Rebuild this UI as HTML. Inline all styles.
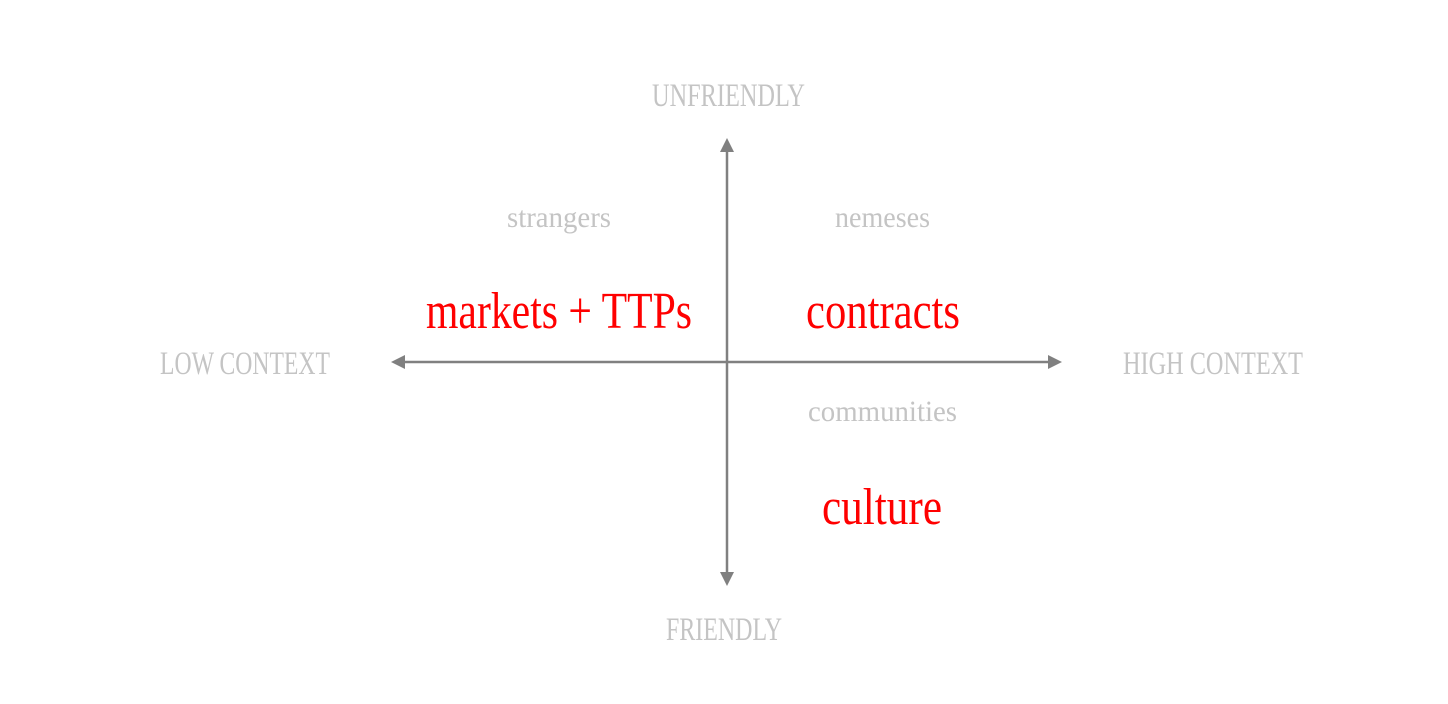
<!DOCTYPE html>
<html>
<head>
<meta charset="utf-8">
<style>
html,body{margin:0;padding:0;background:#fff;}
svg{display:block;}
text{font-family:"Liberation Serif",serif;}
.g{fill:#c4c4c4;}
.r{fill:#ff0000;}
</style>
</head>
<body>
<svg width="1448" height="704" viewBox="0 0 1448 704" xmlns="http://www.w3.org/2000/svg">
<rect width="1448" height="704" fill="#fff"/>
<g stroke="#808080" stroke-width="2.5">
<line x1="727" y1="150" x2="727" y2="575"/>
<line x1="402" y1="362" x2="1050" y2="362"/>
</g>
<g fill="#808080">
<polygon points="727,138 720,152 734,152"/>
<polygon points="727,586 720,572 734,572"/>
<polygon points="391,362 405,355 405,369"/>
<polygon points="1062,362 1048,355 1048,369"/>
</g>
<text class="g" x="652" y="106" font-size="33" textLength="153" lengthAdjust="spacingAndGlyphs">UNFRIENDLY</text>
<text class="g" x="160" y="374" font-size="33" textLength="170" lengthAdjust="spacingAndGlyphs">LOW CONTEXT</text>
<text class="g" x="1123" y="374" font-size="33" textLength="180" lengthAdjust="spacingAndGlyphs">HIGH CONTEXT</text>
<text class="g" x="666" y="640" font-size="33" textLength="116" lengthAdjust="spacingAndGlyphs">FRIENDLY</text>
<text class="g" x="507" y="227" font-size="30" textLength="104" lengthAdjust="spacingAndGlyphs">strangers</text>
<text class="g" x="835" y="227" font-size="30" textLength="95" lengthAdjust="spacingAndGlyphs">nemeses</text>
<text class="g" x="808" y="421" font-size="30" textLength="149" lengthAdjust="spacingAndGlyphs">communities</text>
<text class="r" x="426" y="328" font-size="52" textLength="266" lengthAdjust="spacingAndGlyphs">markets + TTPs</text>
<text class="r" x="806" y="328" font-size="52" textLength="154" lengthAdjust="spacingAndGlyphs">contracts</text>
<text class="r" x="822" y="524" font-size="52" textLength="120" lengthAdjust="spacingAndGlyphs">culture</text>
</svg>
</body>
</html>
